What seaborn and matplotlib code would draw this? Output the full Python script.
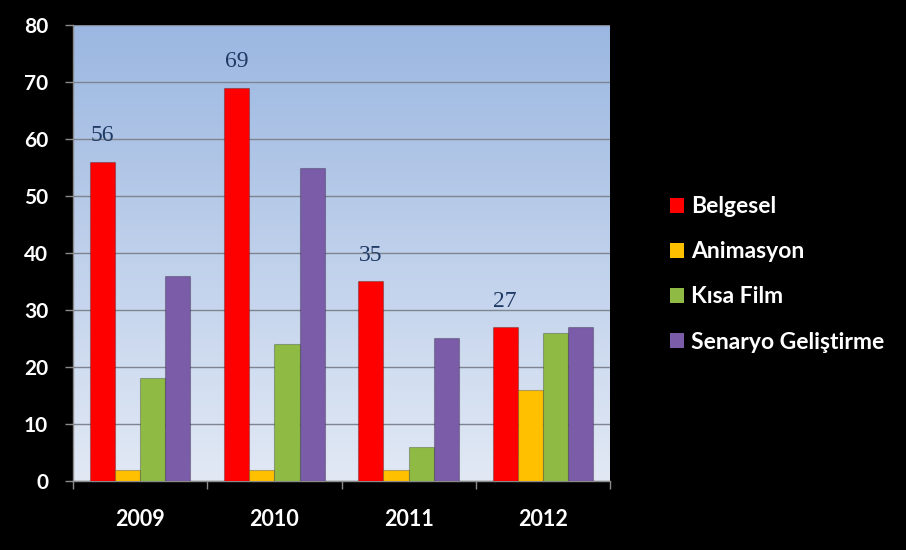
import numpy as np
import pandas as pd
import matplotlib
matplotlib.use("Agg")
import matplotlib.pyplot as plt
from matplotlib.patches import Patch
from matplotlib.colors import LinearSegmentedColormap
import seaborn as sns

years = ["2009", "2010", "2011", "2012"]
series = ["Belgesel", "Animasyon", "Kısa Film", "Senaryo Geliştirme"]
belgesel = [56, 69, 35, 27]
animasyon = [2, 2, 2, 16]
kisa_film = [18, 24, 6, 26]
senaryo = [36, 55, 25, 27]
colors = ["#ff0000", "#ffc000", "#8fbb45", "#7b5ca8"]
y_ticks = [0, 10, 20, 30, 40, 50, 60, 70, 80]

df = pd.DataFrame({
    "Yıl": years * 4,
    "Tür": sum([[s] * 4 for s in series], []),
    "Sayı": belgesel + animasyon + kisa_film + senaryo,
})

sns.set_theme(style="white")
plt.rcParams["font.family"] = ["Lato", "DejaVu Sans"]

fig = plt.figure(figsize=(9.06, 5.5), dpi=100, facecolor="black")
ax = fig.add_axes([0.0806, 0.1255, 0.5927, 0.829])

# vertical gradient for the plot area
grad_cmap = LinearSegmentedColormap.from_list("bg", ["#e2e9f5", "#9bb7e1"])
grad = np.linspace(0, 1, 256).reshape(-1, 1)
ax.imshow(grad, extent=[0, 1, 0, 1], transform=ax.transAxes, aspect="auto",
          cmap=grad_cmap, origin="lower", zorder=0)

sns.barplot(data=df, x="Yıl", y="Sayı", hue="Tür", hue_order=series,
            order=years, palette=colors, width=0.75, gap=0, ax=ax,
            edgecolor=(0, 0, 0, 0.25), linewidth=0.8, saturation=1,
            legend=False, zorder=3)

ax.set_xlim(-0.5, 3.5)
ax.set_ylim(0, 80)
ax.set_yticks(y_ticks)
ax.set_axisbelow(True)
ax.yaxis.grid(True, color="#7f8590", linewidth=1.0)
ax.xaxis.grid(False)

ax.set_xlabel("")
ax.set_ylabel("")
for s in ["top", "right"]:
    ax.spines[s].set_visible(False)
for s in ["left", "bottom"]:
    ax.spines[s].set_color("#8a8a8a")
    ax.spines[s].set_linewidth(1.0)

ax.tick_params(axis="y", colors="#8a8a8a", labelcolor="white", length=6,
               width=1, direction="out", labelsize=15, pad=12, left=True)
ax.tick_params(axis="x", which="major", length=0, labelcolor="white",
               labelsize=15.5, pad=20)
ax.set_xticks([-0.5, 0.5, 1.5, 2.5, 3.5], minor=True)
ax.tick_params(axis="x", which="minor", length=6, width=1, color="#8a8a8a",
               direction="out", bottom=True)
for lbl in ax.get_xticklabels() + ax.get_yticklabels():
    lbl.set_fontweight("bold")

# value labels over the Belgesel bars
bw = 0.75 / 4
for i, v in enumerate(belgesel):
    x = i - 0.375 + bw / 2
    ax.text(x, v + 2.7, str(v), ha="center", va="bottom", fontsize=17,
            color="#1f3a64", family=["Liberation Serif", "DejaVu Serif"],
            zorder=5)

handles = [Patch(facecolor=c, edgecolor="none") for c in colors]
leg = fig.legend(handles, series, loc="center left",
                 bbox_to_anchor=(0.717, 0.501), frameon=False,
                 handlelength=0.6, handleheight=0.6, handletextpad=0.3,
                 labelspacing=1.05, prop={"size": 16.5, "weight": "bold"})
for t in leg.get_texts():
    t.set_color("white")

fig.savefig("out.png", dpi=100, facecolor="black")
